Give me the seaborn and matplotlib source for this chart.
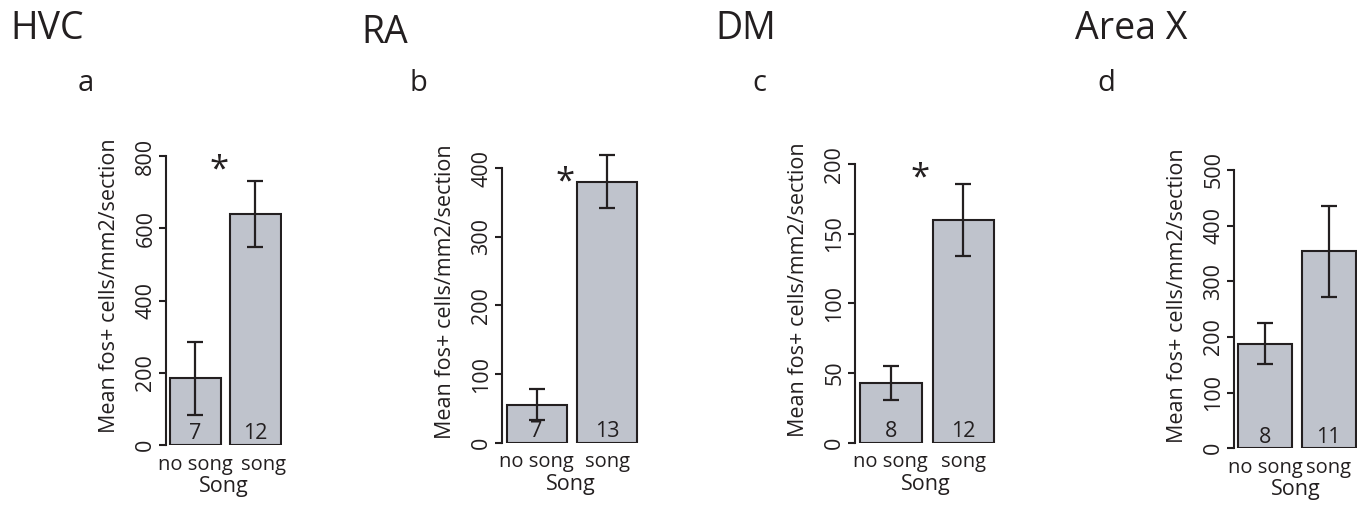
import numpy as np
import pandas as pd
import seaborn as sns
import matplotlib.pyplot as plt
from matplotlib.transforms import ScaledTranslation

sns.set_style('white')
plt.rcParams['font.family'] = ['Open Sans', 'DejaVu Sans']

# data
regions = ['HVC', 'RA', 'DM', 'Area X']
letters = ['a', 'b', 'c', 'd']
groups = ['no song', 'song']
means = [[186, 640], [55, 380], [43, 160], [188, 354]]
err_lo = [[83, 549], [33, 342], [31, 134], [151, 272]]
err_hi = [[286, 730], [78, 419], [55, 186], [225, 435]]
n_birds = [[7, 12], [7, 13], [8, 12], [8, 11]]
tick_max = [800, 400, 200, 500]
tick_step = [200, 100, 50, 100]
signif = [True, True, True, False]

bar_color = '#bfc3cc'
ink = '#231f20'
fs = 15.5

W, H = 1364, 508
fig = plt.figure(figsize=(W / 100, H / 100), dpi=100)

# layout in pixels: spine x, bar spacing, bottom y, px per unit, title x, title baseline, letter x
layout = [
    dict(x0=166, sp=60.0, y0=445.0, ppu=0.361, tx=10, ty=39, lx=78, nudge=8),
    dict(x0=502, sp=70.5, y0=442.7, ppu=0.686, tx=361, ty=43, lx=409, nudge=0),
    dict(x0=855, sp=72.8, y0=442.7, ppu=1.393, tx=715, ty=39, lx=752, nudge=0),
    dict(x0=1234, sp=63.5, y0=448.3, ppu=0.5567, tx=1075, ty=39, lx=1097, nudge=0),
]
xl = (-0.49, 1.45)

for i, reg in enumerate(regions):
    L = layout[i]
    ytop = tick_max[i] * 1.1
    w_px = (xl[1] - xl[0]) * L['sp']
    h_px = ytop * L['ppu']
    ax = fig.add_axes([L['x0'] / W, 1 - L['y0'] / H, w_px / W, h_px / H])

    df = pd.DataFrame({'Song': groups, 'val': means[i]})
    sns.barplot(data=df, x='Song', y='val', color=bar_color, saturation=1,
                edgecolor=ink, linewidth=1.5, width=0.85, errorbar=None, ax=ax)
    m = np.array(means[i])
    yerr = [m - np.array(err_lo[i]), np.array(err_hi[i]) - m]
    ax.errorbar([0, 1], m, yerr=yerr, fmt='none', ecolor=ink, elinewidth=1.6,
                capsize=5.5, capthick=1.6)

    for j, n in enumerate(n_birds[i]):
        ax.annotate(str(n), (j, 0), xytext=(0, 4), textcoords='offset points',
                    ha='center', va='baseline', fontsize=fs, color=ink)

    if signif[i]:
        ax.text(0.40, tick_max[i] * 0.95, '*', ha='center', va='center',
                fontsize=25, color=ink)

    ax.set_xlim(*xl)
    ax.set_ylim(0, ytop)
    ax.set_yticks(np.arange(0, tick_max[i] + 1, tick_step[i]))
    ax.tick_params(axis='y', direction='out', length=5, width=1.5, color=ink,
                   labelsize=fs, labelcolor=ink, pad=2, left=True)
    for lab in ax.get_yticklabels():
        lab.set_rotation(90)
        lab.set_va('center')
    ax.tick_params(axis='x', length=0, labelsize=14.5, labelcolor=ink, pad=7)
    if L['nudge']:
        lab = ax.get_xticklabels()[1]
        lab.set_transform(lab.get_transform() + ScaledTranslation(L['nudge'] / 100, 0, fig.dpi_scale_trans))
    for s in ['top', 'right', 'bottom']:
        ax.spines[s].set_visible(False)
    ax.spines['left'].set_bounds(0, tick_max[i])
    ax.spines['left'].set_linewidth(1.5)
    ax.spines['left'].set_color(ink)
    ax.set_ylabel('Mean fos+ cells/mm2/section', fontsize=fs, color=ink, labelpad=11)
    ax.set_xlabel('Song', fontsize=fs, color=ink, labelpad=1)
    ax.patch.set_alpha(0)

    fig.text(L['tx'] / W, 1 - L['ty'] / H, reg, fontsize=27, color=ink, va='baseline')
    fig.text(L['lx'] / W, 1 - 91 / H, letters[i], fontsize=21, color=ink, va='baseline')

fig.savefig('out.png', dpi=100)
